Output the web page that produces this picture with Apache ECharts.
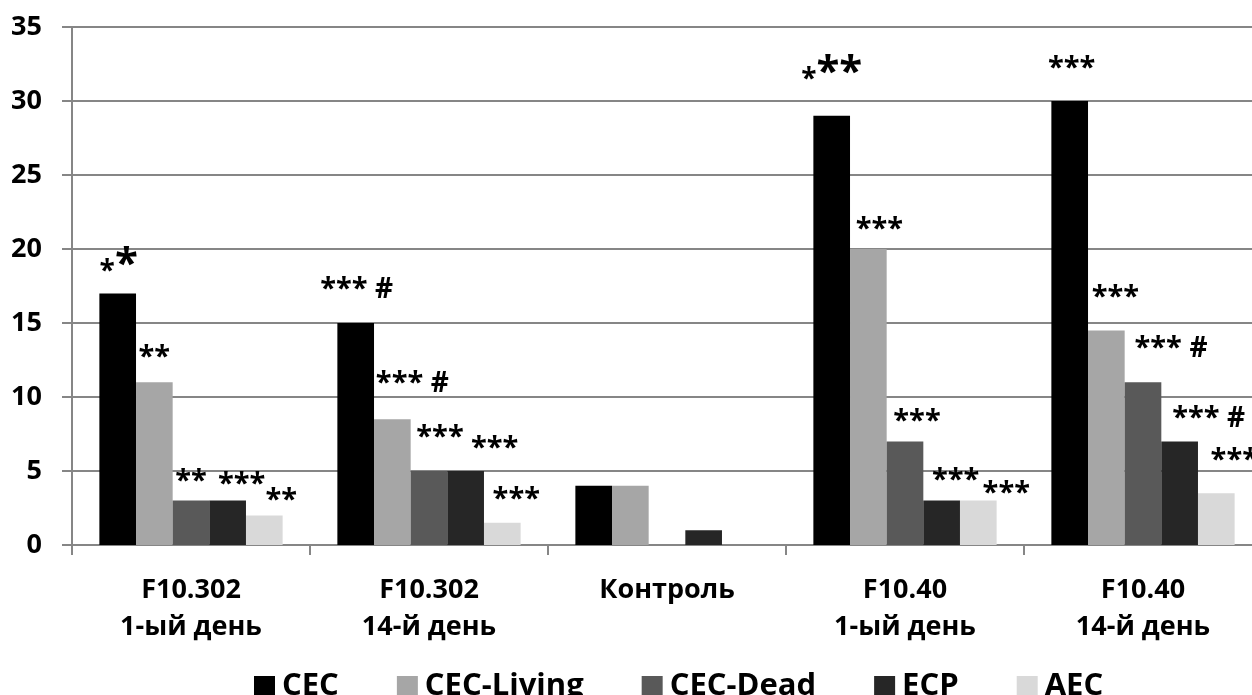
<!DOCTYPE html>
<html>
<head>
<meta charset="utf-8">
<script src="https://cdn.jsdelivr.net/npm/echarts@6/dist/echarts.min.js"></script>
<style>
  html, body { margin: 0; padding: 0; background: #ffffff; overflow: hidden; }
  #chart { width: 1262px; height: 695px; }
</style>
</head>
<body>
<div id="chart"></div>
<script>
// ---- data ----
const categories = ['F10.302\n1-ый день', 'F10.302\n14-й день', 'Контроль', 'F10.40\n1-ый день', 'F10.40\n14-й день'];
const seriesNames = ['CEC', 'CEC-Living', 'CEC-Dead', 'ECP', 'AEC'];
const cec       = [17, 15, 4, 29, 30];
const cecLiving = [11, 8.5, 4, 20, 14.5];
const cecDead   = [3, 5, 0, 7, 11];
const ecp       = [3, 5, 1, 3, 7];
const aec       = [2, 1.5, 0, 3, 3.5];
const yTicks = [0, 5, 10, 15, 20, 25, 30, 35];

// significance marks (text content)
const cecMarks    = ['**', '*** #', '', '***', '***'];
const livingMarks = ['**', '*** #', '', '***', '***'];
const deadMarks   = ['**', '***', '', '***', '*** #'];
const ecpMarks    = ['***', '***', '', '***', '*** #'];
const aecMarks    = ['**', '***', '', '***', '***'];

// ---- label layout (style, not data) ----
const markShiftX = [
  [1, 1, 0, 0, 2],
  [0, 20, 0, 11, 9],
  [0, 11, 0, 12, 28],
  [14, 29, 0, 14, 29],
  [17, 14, 0, 28, 18]
];
const markGap = [
  [18, 30, 0, 33, 29],
  [21, 32, 0, 16, 29],
  [15, 30, 0, 16, 30],
  [12, 19, 0, 16, 19],
  [11, 20, 0, 3, 29]
];
// marks whose first star is small and rest are large: [seriesIndex, categoryIndex]
const mixedMarks = [[0, 0], [0, 3]];
const STAR_BASE = 11;

const allValues = [cec, cecLiving, cecDead, ecp, aec];
const allMarks = [cecMarks, livingMarks, deadMarks, ecpMarks, aecMarks];
const colors = ['#000000', '#a6a6a6', '#595959', '#262626', '#d9d9d9'];
const FONT = '"Open Sans", "Liberation Sans", sans-serif';
const GRAY = '#868686';

function isMixed(s, c) {
  return mixedMarks.some(m => m[0] === s && m[1] === c);
}

function richText(mark, mixed) {
  if (!mark) return '';
  if (mixed) {
    return '{s|' + mark.charAt(0) + '}{b|' + mark.slice(1) + '}';
  }
  const parts = mark.split(' ');
  let out = '{a|' + parts[0] + '}';
  if (parts.length > 1) out += '{a| }{h|' + parts[1] + '}';
  return out;
}

const rich = {
  a: { fontFamily: FONT, fontWeight: 'bold', fontSize: 29, color: '#000', verticalAlign: 'bottom' },
  s: { fontFamily: FONT, fontWeight: 'bold', fontSize: 28, color: '#000', verticalAlign: 'bottom' },
  b: { fontFamily: FONT, fontWeight: 'bold', fontSize: 42, color: '#000', verticalAlign: 'bottom' },
  h: { fontFamily: FONT, fontWeight: 'bold', fontSize: 28, color: '#000', verticalAlign: 'bottom' }
};

const series = seriesNames.map((name, s) => ({
  name: name,
  type: 'bar',
  barGap: '0%',
  barCategoryGap: '23%',
  itemStyle: { color: colors[s] },
  data: allValues[s].map((v, c) => ({
    value: v,
    label: {
      show: !!allMarks[s][c],
      position: 'top',
      distance: 0,
      offset: [markShiftX[s][c], STAR_BASE - markGap[s][c]],
      formatter: richText(allMarks[s][c], isMixed(s, c)),
      rich: rich
    }
  }))
}));

const chart = echarts.init(document.getElementById('chart'), null, { renderer: 'canvas' });
chart.setOption({
  animation: false,
  backgroundColor: '#ffffff',
  color: colors,
  grid: { left: 72, right: 0, top: 27, bottom: 150, containLabel: false },
  legend: {
    data: seriesNames,
    top: 666,
    left: 249,
    icon: 'rect',
    itemWidth: 21,
    itemHeight: 21,
    itemGap: 58,
    textStyle: { fontFamily: FONT, fontWeight: 'bold', fontSize: 31, color: '#000', padding: [0, 0, 0, 2] }
  },
  xAxis: {
    type: 'category',
    data: categories,
    axisLine: { show: true, lineStyle: { color: GRAY, width: 2 } },
    axisTick: { show: true, length: 10, lineStyle: { color: GRAY, width: 2 } },
    axisLabel: { fontFamily: FONT, fontWeight: 'bold', fontSize: 27, color: '#000', lineHeight: 37, margin: 27 }
  },
  yAxis: {
    type: 'value',
    min: yTicks[0],
    max: yTicks[yTicks.length - 1],
    interval: yTicks[1] - yTicks[0],
    axisLine: { show: true, lineStyle: { color: GRAY, width: 2 } },
    axisTick: { show: true, length: 10, lineStyle: { color: GRAY, width: 2 } },
    splitLine: { show: true, lineStyle: { color: GRAY, width: 2 } },
    axisLabel: { fontFamily: FONT, fontWeight: 'bold', fontSize: 27, color: '#000', margin: 30 }
  },
  series: series
});
</script>
</body>
</html>
